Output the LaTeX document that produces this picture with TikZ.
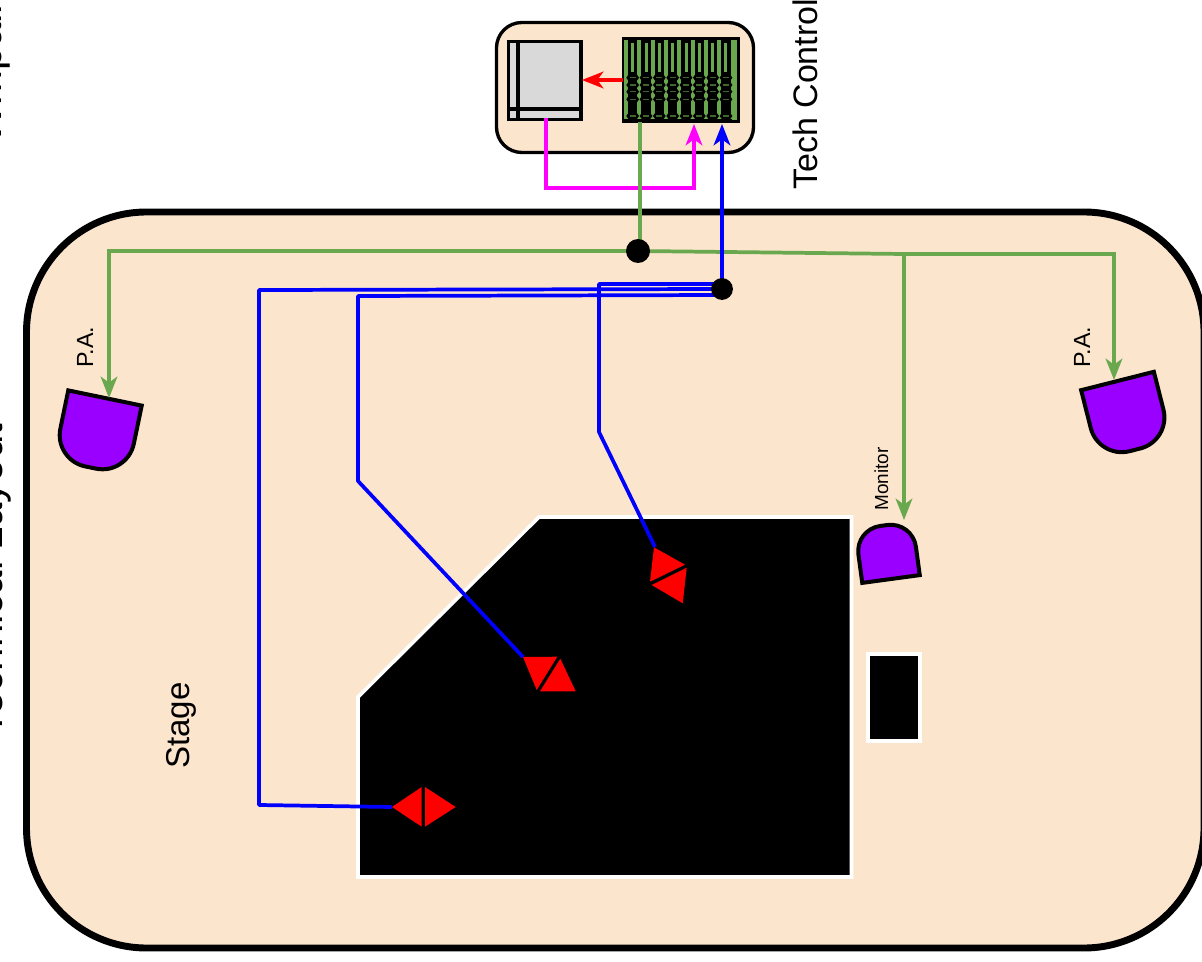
\documentclass[tikz,border=0pt]{standalone}
\usepackage{fontspec}
\setmainfont{Liberation Sans}
\usetikzlibrary{arrows.meta}
\definecolor{peach}{HTML}{FCE5CD}
\definecolor{wire}{HTML}{6AA84F}
\definecolor{pinkwire}{HTML}{FF00FF}
\definecolor{bluewire}{HTML}{0000FF}
\definecolor{speakerfill}{HTML}{9900FF}
\definecolor{screenfill}{HTML}{D9D9D9}
\tikzset{
  feed/.style={line width=2.8pt,-{Stealth[length=16pt,width=12.5pt,inset=4.5pt]}},
  plainfeed/.style={line width=2.8pt},
  speakerbox/.style={draw=black,line width=3pt,fill=speakerfill,line join=miter},
  stagebox/.style={draw=white,line width=2.7pt,fill=black},
  wedge/.style={fill=red},
  hub/.style={fill=black},
  bigtext/.style={rotate=90,anchor=base west,font=\fontsize{31.5}{36}\selectfont},
  midtext/.style={rotate=90,anchor=base west,font=\fontsize{25.5}{30}\selectfont},
  stagetext/.style={rotate=90,anchor=base west,font=\fontsize{24.8}{29}\selectfont},
  smalltext/.style={rotate=90,anchor=base west,font=\fontsize{17.5}{21}\selectfont},
  tinytext/.style={rotate=90,anchor=base west,font=\fontsize{14.2}{17}\selectfont}
}
\begin{document}
\begin{tikzpicture}[x=0.75pt,y=-0.75pt]
\useasboundingbox (0,0) rectangle (1202,962);
\coordinate (hubG) at (638,251);
\coordinate (hubB) at (722,289);
\coordinate (branch) at (904,254);
\coordinate (mixL) at (623,80);
\coordinate (mixG) at (640,122);
\coordinate (mixM) at (694,124);
\coordinate (mixB) at (722,124);
\coordinate (scrR) at (582,80);
\coordinate (scrB) at (546,118);
\coordinate (paL) at (105,398);
\coordinate (paR) at (1117.5,381);
\coordinate (mon) at (891,579);
\coordinate (tipA) at (392,807);
\coordinate (tipB) at (523,657);
\coordinate (tipC) at (655,547);

% room and tech box
\draw[line width=5.2pt,fill=peach,rounded corners=90pt] (26.5,212) rectangle (1204,948);
\draw[line width=2.5pt,fill=peach,rounded corners=19pt] (496.5,22.5) rectangle (753.5,152.5);

% screen
\draw[line width=2.5pt,fill=screenfill] (508.5,41.5) rectangle (581,119.5);
\draw[line width=2.5pt] (518,41.5) -- (518,119.5);
\draw[line width=2.5pt] (508.5,109) -- (581,109);

% mixer
\draw[line width=2.4pt,fill=black] (623.5,38.5) rectangle (738.5,121.5);
\foreach \i in {0,...,8} {
  \fill[wire] ({626+13.33*\i-2},40) rectangle ({626+13.33*\i+2},119.5);
}
\fill[wire] (731.5,40) rectangle (736.5,120);
\fill[wire] (626,118) rectangle (734,119.5);
\foreach \i in {0,...,7} {
  \fill[wire] ({632.67+13.33*\i-1.5},43) rectangle ({632.67+13.33*\i+1.5},72);
  \foreach \r in {77.7,85,91.7,99.3,116} {
    \fill[black] ({632.67+13.33*\i},\r) ellipse [x radius=4.8pt,y radius=2.8pt];
    \fill[wire!60!black] ({632.67+13.33*\i-3},\r-0.6) rectangle ({632.67+13.33*\i+3},\r+0.6);
  }
}

% stage
\draw[stagebox] (539,517) -- (851.5,517) -- (851.5,877) -- (358,877) -- (358,697) -- cycle;
\draw[stagebox] (868,654) rectangle (920,741);

% speakers
\draw[speakerbox,shift={(paL)},rotate=-11.7] (-37.5,0) -- (37.5,0) {[rounded corners=24pt] -- (37.5,71) -- (-37.5,71)} -- cycle;
\draw[speakerbox,shift={(paR)},rotate=14.2] (-37.5,0) -- (37.5,0) {[rounded corners=24pt] -- (37.5,71) -- (-37.5,71)} -- cycle;
\draw[speakerbox,shift={(mon)},rotate=187.7] (-29,0) -- (29,0) {[rounded corners=19pt] -- (29,54) -- (-29,54)} -- cycle;

% red wedges
\fill[wedge] (tipA) -- (421.7,787) -- (421.7,826.7) -- cycle;
\fill[wedge] (425,787) -- (425,826.7) -- (455.7,807) -- cycle;
\fill[wedge] (tipB) -- (557.3,656.7) -- (536.7,690) -- cycle;
\fill[wedge] (560.3,658.7) -- (575.7,691.3) -- (540,691.3) -- cycle;
\fill[wedge] (654,547.3) -- (685,564.7) -- (650,581.7) -- cycle;
\fill[wedge] (686.7,567.7) -- (682.7,603.3) -- (651.7,585) -- cycle;

% wiring
\draw[feed,red] (mixL) -- (scrR);
\draw[feed,pinkwire] (scrB) -- (546,188) -- (694,188) -- (mixM);
\draw[plainfeed,wire] (mixG) -- (640,240);
\draw[feed,wire] (hubG) -- (109,251) -- (109,398);
\draw[feed,wire] (hubG) -- (branch) -- (1114,254) -- (1114,380);
\draw[feed,wire] (branch) -- (904,520);
\draw[feed,bluewire] (hubB) -- (mixB);
\draw[plainfeed,bluewire,line join=round] (hubB) -- (259,290) -- (259,805) -- (tipA);
\draw[plainfeed,bluewire,line join=round] (hubB) ++(0,6) -- (358,296) -- (358,481) -- (tipB);
\draw[plainfeed,bluewire,line join=round] (hubB) ++(0,-5) -- (599,284) -- (599,432) -- (tipC);
\fill[hub] (hubG) circle (9pt);
\fill[hub] (hubB) circle (8.2pt);

% labels
\node[bigtext,inner sep=0pt] (layout) at (2.5,737) {Technical Layout};
\node[bigtext,inner sep=0pt] (impaired) at (1.5,145) {Wmpaired};
\node[midtext,inner sep=0pt] (tech) at (817,190) {Tech Control};
\node[stagetext,inner sep=0pt] (stage) at (189,769) {Stage};
\node[smalltext,inner sep=0pt] (paleft) at (93,368) {P.A.};
\node[smalltext,inner sep=0pt] (paright) at (1090,368) {P.A.};
\node[tinytext,inner sep=0pt] (monitor) at (888,511) {Monitor};
\end{tikzpicture}
\end{document}
